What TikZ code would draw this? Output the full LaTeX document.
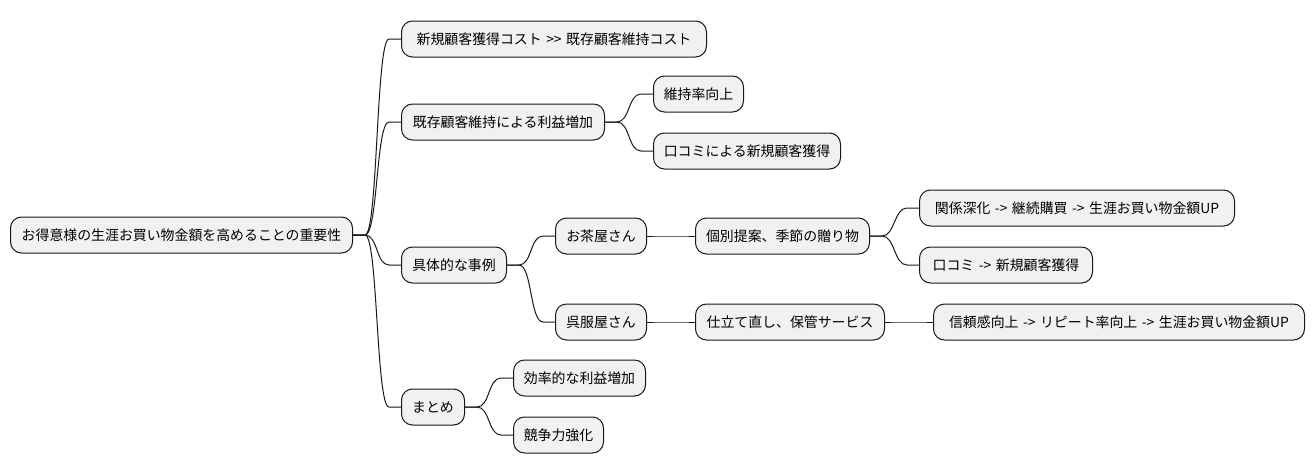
\documentclass[tikz,border=0pt]{standalone}
\usepackage{fontspec}
\setmainfont[Ligatures=ResetAll]{Noto Sans CJK JP}
\usetikzlibrary{calc}
\definecolor{boxfill}{HTML}{F1F1F1}
\definecolor{boxline}{HTML}{181818}
\tikzset{
  mm/.style={draw=boxline, fill=boxfill, line width=1pt, rounded corners=11pt,
    minimum height=36pt, inner xsep=0pt, inner ysep=0pt, anchor=west,
    font=\fontsize{13.9}{17}\selectfont},
  edge/.style={draw=boxline, line width=1pt},
}
\newcommand\mmconn[2]{\draw[edge] (#1.east) -- ++(12,0) .. controls +(13,0) and +(-13,0) .. ($(#2.west)+(-12,0)$) -- (#2.west);}
\newcommand\mmsp{\hspace{4.5pt}}
\begin{document}
\begin{tikzpicture}[x=1pt,y=-1pt]
\useasboundingbox (0,0) rectangle (1315,471);
\node[mm, minimum width=342pt] (root) at (10,235) {お得意様の生涯お買い物金額を高めることの重要性};
\node[mm, minimum width=305pt] (a1) at (401,39) {新規顧客獲得コスト\mmsp{}{>}{>}\mmsp{}既存顧客維持コスト};
\node[mm, minimum width=203pt] (a2) at (401,122) {既存顧客維持による利益増加};
\node[mm, minimum width=105pt] (a3) at (401,265) {具体的な事例};
\node[mm, minimum width=63pt] (a4) at (401,407) {まとめ};
\node[mm, minimum width=90pt] (b1) at (653,94) {維持率向上};
\node[mm, minimum width=187pt] (b2) at (653,151) {口コミによる新規顧客獲得};
\node[mm, minimum width=91pt] (c1) at (555,236) {お茶屋さん};
\node[mm, minimum width=91pt] (c2) at (555,322) {呉服屋さん};
\node[mm, minimum width=132pt] (d1) at (513,378) {効率的な利益増加};
\node[mm, minimum width=90pt] (d2) at (513,435) {競争力強化};
\node[mm, minimum width=174pt] (e1) at (695,236) {個別提案、季節の贈り物};
\node[mm, minimum width=189pt] (e2) at (695,322) {仕立て直し、保管サービス};
\node[mm, minimum width=315pt] (f1) at (919,208) {関係深化\mmsp{}->\mmsp{}継続購買\mmsp{}->\mmsp{}生涯お買い物金額UP};
\node[mm, minimum width=173pt] (f2) at (919,265) {口コミ\mmsp{}->\mmsp{}新規顧客獲得};
\node[mm, minimum width=371pt] (f3) at (933,322) {信頼感向上\mmsp{}->\mmsp{}リピート率向上\mmsp{}->\mmsp{}生涯お買い物金額UP};
\mmconn{root}{a1}
\mmconn{root}{a2}
\mmconn{root}{a3}
\mmconn{root}{a4}
\mmconn{a2}{b1}
\mmconn{a2}{b2}
\mmconn{a3}{c1}
\mmconn{a3}{c2}
\mmconn{a4}{d1}
\mmconn{a4}{d2}
\mmconn{c1}{e1}
\mmconn{c2}{e2}
\mmconn{e1}{f1}
\mmconn{e1}{f2}
\mmconn{e2}{f3}
\end{tikzpicture}
\end{document}
